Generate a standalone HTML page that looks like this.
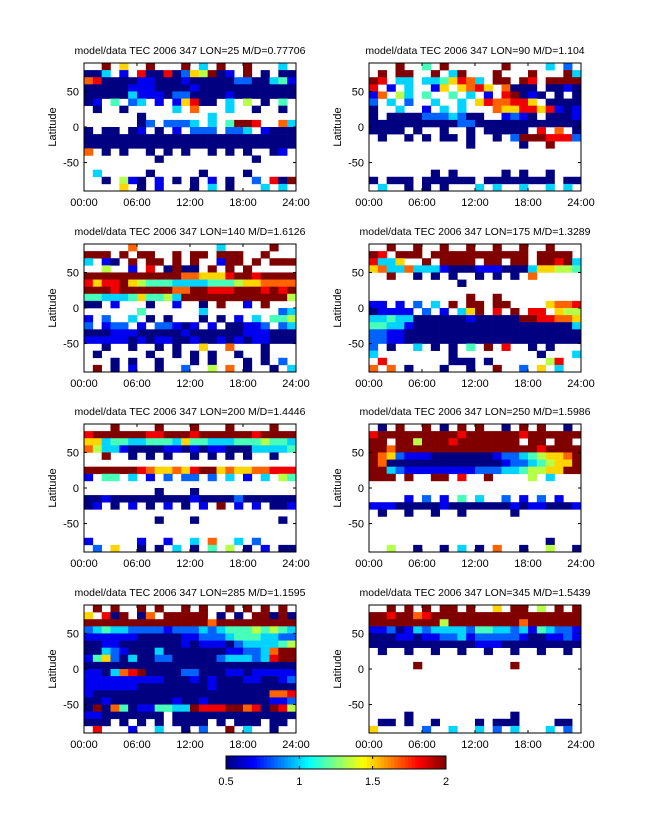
<!DOCTYPE html>
<html><head><meta charset="utf-8">
<style>
html,body{margin:0;padding:0;background:#fff;}
svg text{font-family:"Liberation Sans",sans-serif;fill:#000;}
</style></head>
<body>
<svg id="fig" width="647" height="822" viewBox="0 0 647 822" xmlns="http://www.w3.org/2000/svg"></svg>
<script>
// ---- data ----
const panelTitles = [
 "model/data TEC 2006 347 LON=25 M/D=0.77706",
 "model/data TEC 2006 347 LON=90 M/D=1.104",
 "model/data TEC 2006 347 LON=140 M/D=1.6126",
 "model/data TEC 2006 347 LON=175 M/D=1.3289",
 "model/data TEC 2006 347 LON=200 M/D=1.4446",
 "model/data TEC 2006 347 LON=250 M/D=1.5986",
 "model/data TEC 2006 347 LON=285 M/D=1.1595",
 "model/data TEC 2006 347 LON=345 M/D=1.5439"
];
const xTickLabels = ["00:00","06:00","12:00","18:00","24:00"];
const xTickValues = [0,6,12,18,24];
const yTickValues = [50,0,-50];
const cbTickValues = [0.5,1,1.5,2];
const cbTickLabels = ["0.5","1","1.5","2"];
// grids: rows from lat 90 (top) to -90, 10 deg each; 24 hourly columns.
// '.' = no data, digit d -> ratio 0.5 + d/9*1.5
const grid0 = [
"..9.6..9...9.3.9..9...3.",
"003.1.80080265901.9.0.00",
"780000110001000002200341",
"000001110000100000000000",
"000003111022000010000000",
"01.4.23.1.16800.3.5.0.4.",
".0..0.....3.7...3..0..0.",
"......0.......3.........",
"......02.2223.3.4998..73",
"0.00.01.0.1.222.223.1000",
"000000000000000000000000",
"000000000000000000000000",
"7.0.0..0.0.0..0.0.0..01.",
"........0..........0....",
"........................",
".3.....0.....0....0.....",
"..0.510.1.0.0.1.0..2.809",
"....6.0.1...0.3.0...3.3."];
const grid1 = [
"...9..4.9......9....3.2.",
".9.99..9.39...9...9...93",
"98.33.3346873.99.98.9999",
"8.1.3..16.6786.7000.0010",
"17.53.4..4.3.1.89010.0.0",
"2.3.2..3..3.6877886.0000",
"0..3..1.3.3...7668868101",
"0.00002223200..1210.0001",
"000000000022000000000000",
"0000.0..0..0.00000.8.7.0",
".0..0.0.00.0..0.29998882",
"...........0.....0..9...",
"........................",
"........................",
"........................",
".......0.0.....0.0..0...",
"0.000.000000.00000000.00",
".3..0.0.0...3.3..3..3.3."];
const grid2 = [
".....7.........3.....9..",
"999.9.99..9.99.999..9...",
"3.10.9.99.9.9..199.9.999",
"..5..1.8.0900.9.9.9.....",
"999999999997766689989999",
"868896544433334445667777",
"999899999977998889998989",
"443334644539999999999995",
"00.1...0..1..0.9..1.9...",
"......4......3........23",
"1.2..3.0.0...0.0.1.3.445",
"2.122.1.22101.1.00112.23",
"000111000001000000111000",
"111110101100100101011000",
"..0..0..0.0..6..7...0...",
".0.....0..0.0.0..0..0...",
"...0.0..0...0.0...0.0.2.",
".9.0.1..0..2..5.7.0..0.3"];
const grid3 = [
"..9..9..9..9..9..9..9...",
"98.999.99999999999.9999.",
"8336..9.9999.99.99.99893",
"673373331000111000366554",
"..9..0.0.0..0.0.0.7.....",
"..........0.............",
"........................",
"...........9..9.........",
"11.1.2.3.9.99.99....6778",
"01111.2.1.369.8.9.88.655",
"334330000001000009988776",
"443310000000000000000003",
"221100000000000000000000",
"221100000000000000000000",
"2.0..3.0.0.4.9.8..0.0...",
"3........0.........0...3",
".8.......000.0......58..",
"7.7.0...0..0..9..2.6.3.."];
const grid4 = [
"...9....9...9...9....9..",
"899999988999899999989999",
"663443344436443334445443",
"753310000110101100033334",
"..9..0.0.0..0.0.0.0..0..",
"........................",
"999999876676899676677888",
"1.44.3.1.2.22.2.3.1.3.54",
"........................",
"........0...0...........",
"001000000000100002000000",
"01.0.1.0.1.0.1.9.1.1.001",
"........................",
"........0...0.........0.",
"........................",
"........................",
"1.....1..1..3.7..3.2....",
".2.6..0.0.3.0.4.5.0.1.00"];
const grid5 = [
".0.9..9.0.9.9..0.9.9..0.",
"899999999989999998999999",
"99.99599989999999.99.99.",
"997999999999999999989999",
"976211100000001223456679",
"970000000000000122345669",
"993211111111222334556699",
"999.9..99.8..9....5.3...",
"........................",
"........................",
"....1.2.1.4.3..2.1.2.1..",
"111000001000000010110001",
".0..0..0..0.....0.......",
"........................",
"........................",
"........................",
"....................0...",
"..5..0..0.3.0.7..0..5..0"];
const grid6 = [
".9.9..9.9..9.9..9.9.9.9.",
"6.809.07.99999.0.0.99090",
"999999999999997999999999",
"234332222122232344454543",
"111111000001122234443322",
"001100000001011102333345",
"003210003000000011223799",
"146203002200000233323899",
"000000000000000000000000",
"110378900002200011011111",
"111111111000101000110012",
"111111000000001000000000",
"100000000000000000000778",
"001000000010010000000112",
"090740114433988899780985",
"110000000.00000000000000",
"000.0.0.0.0000.0.000.00.",
".8...1..3..0.2..9.3..0.."];
const grid7 = [
"..9.9.9.99.9..6.99.5.9.9",
"998997899999999999999999",
"999999995999999997999999",
"112013233332443323143221",
"000110112231222221001121",
"000000000000111000000000",
".0..0..0..0..0..0..0..0.",
"........................",
".....9..........9.......",
"........................",
"........................",
"........................",
"........................",
"........................",
"........................",
"....0...........0.......",
".00.0..0....0.000....00.",
"6.....2..3..3.2.3...3.2."];
const grids = [grid0,grid1,grid2,grid3,grid4,grid5,grid6,grid7];

// ---- layout ----
const NS="http://www.w3.org/2000/svg";
const svg=document.getElementById('fig');
const colX=[84,369], rowY=[63,244,424,605], PW=212, PH=128;
const cmin=0.5,cmax=2;
function jet(v){
  let t=Math.max(0,Math.min(1,(v-cmin)/(cmax-cmin)));
  const c=x=>Math.round(255*Math.max(0,Math.min(1,x)));
  return `rgb(${c(1.5-Math.abs(4*t-3))},${c(1.5-Math.abs(4*t-2))},${c(1.5-Math.abs(4*t-1))})`;
}
function el(tag,attrs,parent){const e=document.createElementNS(NS,tag);for(const k in attrs)e.setAttribute(k,attrs[k]);(parent||svg).appendChild(e);return e;}
function decode(ch){return ch==='.'?null:0.5+(+ch)/9*1.5;}

grids.forEach((g,p)=>{
  const x0=colX[p%2], y0=rowY[Math.floor(p/2)];
  const xs=h=>x0+h/24*PW;
  const ys=lat=>y0+(90-lat)/180*PH;
  const grp=el('g',{});
  
  
  const t=el('text',{x:x0+PW/2,y:y0-9,'text-anchor':'middle','font-size':'10.5'},grp);
  t.textContent=panelTitles[p];
  
  
  const cells=el('g',{},grp);
  
  
  g.forEach((row,r)=>{
    const s=row.slice(0,24).padEnd(24,'.');
    for(let c=0;c<24;c++){
      const v=decode(s[c]); if(v===null) continue;
      const latTop=90-r*10, xa=xs(c), xb=xs(c+1), ya=ys(latTop), yb=ys(latTop-10);
      const rc=el('rect',{x:xa.toFixed(2),y:ya.toFixed(2),width:(xb-xa+0.3).toFixed(2),height:(yb-ya+0.3).toFixed(2),fill:jet(v)},cells);
      
      
    }
  });
  const box=el('rect',{x:x0,y:y0,width:PW,height:PH,fill:'none',stroke:'#000','stroke-width':1},grp);
  
  
  xTickValues.forEach((h,i)=>{
    const x=xs(h);
    el('line',{x1:x,y1:y0+PH,x2:x,y2:y0+PH-3,stroke:'#000'},grp);
    el('line',{x1:x,y1:y0,x2:x,y2:y0+3,stroke:'#000'},grp);
    const tl=el('text',{x:x,y:y0+PH+15,'text-anchor':'middle','font-size':'11'},grp);
    tl.textContent=xTickLabels[i];
    
    
  });
  yTickValues.forEach(lat=>{
    const y=ys(lat);
    el('line',{x1:x0,y1:y,x2:x0+3,y2:y,stroke:'#000'},grp);
    el('line',{x1:x0+PW,y1:y,x2:x0+PW-3,y2:y,stroke:'#000'},grp);
    const yl=el('text',{x:x0-5,y:y+4,'text-anchor':'end','font-size':'11'},grp);
    yl.textContent=String(lat);
    
    
  });
  const yt=el('text',{x:0,y:0,'text-anchor':'middle','font-size':'11',transform:`translate(${x0-28},${y0+PH/2}) rotate(-90)`},grp);
  yt.textContent='Latitude';
  
  
});

// colorbar
const cbX=226,cbY=756,cbW=220,cbH=13;
const cb=el('g',{});


const nSteps=64;
for(let i=0;i<nSteps;i++){
  const v=cmin+(i+0.5)/nSteps*(cmax-cmin);
  el('rect',{x:(cbX+i*cbW/nSteps).toFixed(2),y:cbY,width:(cbW/nSteps+0.4).toFixed(2),height:cbH,fill:jet(v)},cb);
}
el('rect',{x:cbX,y:cbY,width:cbW,height:cbH,fill:'none',stroke:'#000'},cb);
const cbx=v=>cbX+(v-cmin)/(cmax-cmin)*cbW;
cbTickValues.forEach((v,i)=>{
  const x=cbx(v);
  el('line',{x1:x,y1:cbY,x2:x,y2:cbY+3,stroke:'#000'},cb);
  el('line',{x1:x,y1:cbY+cbH,x2:x,y2:cbY+cbH-3,stroke:'#000'},cb);
  const t=el('text',{x:x,y:cbY+cbH+16,'text-anchor':'middle','font-size':'11'},cb);
  t.textContent=cbTickLabels[i];
  
  
});
</script>
</body></html>
